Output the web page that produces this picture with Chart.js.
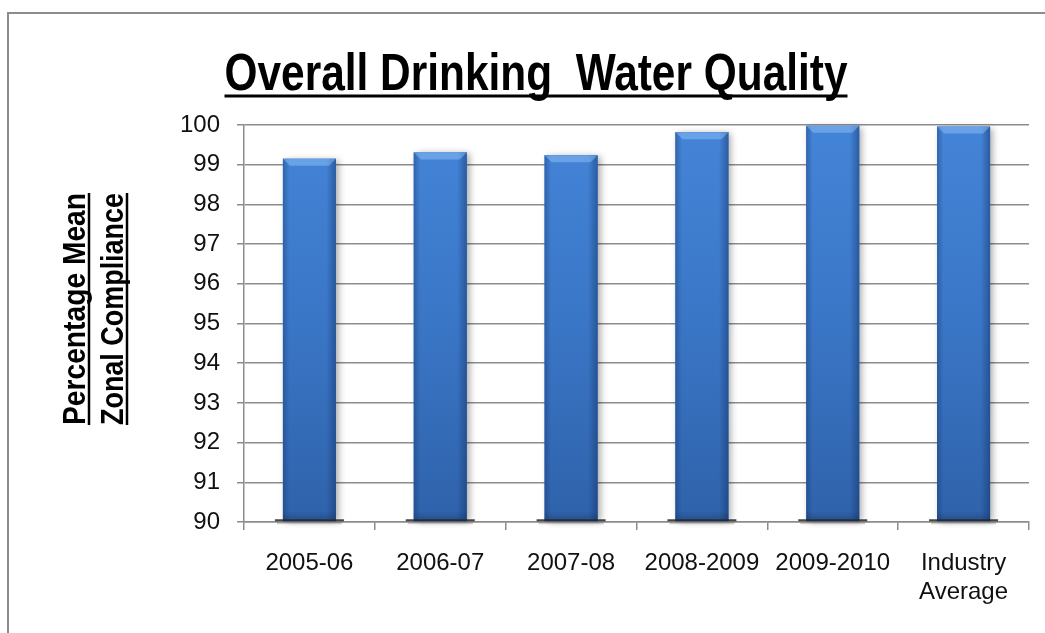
<!DOCTYPE html>
<html>
<head>
<meta charset="utf-8">
<script src="https://cdn.jsdelivr.net/npm/chart.js@4.4.1/dist/chart.umd.min.js"></script>
<style>
  html, body { margin: 0; padding: 0; background: #fff; }
  #wrap { width: 1045px; height: 633px; position: relative; }
</style>
</head>
<body>
<div id="wrap"><canvas id="chart" width="1045" height="633"></canvas></div>
<script>
// ── data ──
const categories = ['2005-06', '2006-07', '2007-08', '2008-2009', '2009-2010', ['Industry', 'Average']];
const compliance = [99.15, 99.31, 99.24, 99.82, 99.98, 99.96];
const Y_MIN = 90;
const Y_MAX = 100;
const Y_STEP = 1;

const TITLE = 'Overall Drinking  Water Quality';
const Y_TITLE = ['Percentage Mean', 'Zonal Compliance'];

const TICK_FONT = { family: "'Liberation Sans', Arial, sans-serif", size: 24 };
const BOLD_FAMILY = "'Liberation Sans Narrow', 'Liberation Sans', Arial, sans-serif";
const AXIS_GREY = '#8c8c8c';

// vertical blue fill for the columns
function columnFill(ctx) {
    const { chart } = ctx;
    const area = chart.chartArea;
    if (!area) return '#3d7bcc';
    const g = chart.ctx.createLinearGradient(0, area.top, 0, area.bottom);
    g.addColorStop(0, '#4484d8');
    g.addColorStop(0.5, '#3a76c6');
    g.addColorStop(1, '#2f62aa');
    return g;
}

function barBoxes(chart) {
    return chart.getDatasetMeta(0).data.map(bar => {
        const p = bar.getProps(['x', 'y', 'base', 'width'], true);
        return { l: p.x - p.width / 2, r: p.x + p.width / 2, t: p.y, b: p.base, w: p.width };
    });
}

// outer frame, soft drop shadow under the columns
const backdrop = {
    id: 'backdrop',
    beforeDraw(chart) {
        const c = chart.ctx;
        c.save();
        c.strokeStyle = AXIS_GREY;
        c.lineWidth = 2;
        c.strokeRect(8, 13, 1100, 700);
        c.restore();
    },
    beforeDatasetsDraw(chart) {
        const c = chart.ctx;
        c.save();
        c.shadowColor = 'rgba(0,0,0,0.35)';
        c.shadowBlur = 7;
        c.shadowOffsetX = 3;
        c.shadowOffsetY = 1;
        c.fillStyle = '#3a76c6';
        barBoxes(chart).forEach(b => c.fillRect(b.l, b.t, b.w, b.b - b.t));
        c.restore();
    },
};

// bevel + side shading on each column
const bevel = {
    id: 'bevel',
    afterDatasetsDraw(chart) {
        const c = chart.ctx;
        c.save();
        barBoxes(chart).forEach(b => {
            const side = c.createLinearGradient(b.l, 0, b.r, 0);
            side.addColorStop(0, 'rgba(15,45,95,0.35)');
            side.addColorStop(0.12, 'rgba(15,45,95,0)');
            side.addColorStop(0.82, 'rgba(15,45,95,0)');
            side.addColorStop(1, 'rgba(15,45,95,0.45)');
            c.fillStyle = side;
            c.fillRect(b.l, b.t, b.w, b.b - b.t);

            const bv = 7;
            c.beginPath();
            c.moveTo(b.l, b.t);
            c.lineTo(b.r, b.t);
            c.lineTo(b.r - bv, b.t + bv);
            c.lineTo(b.l + bv, b.t + bv);
            c.closePath();
            c.fillStyle = 'rgba(150,200,250,0.45)';
            c.fill();

            const foot = c.createLinearGradient(0, b.b - 10, 0, b.b);
            foot.addColorStop(0, 'rgba(20,40,80,0)');
            foot.addColorStop(1, 'rgba(20,40,80,0.35)');
            c.fillStyle = foot;
            c.fillRect(b.l, b.b - 10, b.w, 10);

            c.fillStyle = 'rgba(40,40,40,0.85)';
            c.fillRect(b.l - 8, b.b - 2, b.w + 16, 2);
            c.fillStyle = 'rgba(120,120,120,0.35)';
            c.fillRect(b.l - 6, b.b, b.w + 12, 3);
        });
        c.restore();
    },
};

// underlined title and two-line y axis title
const headings = {
    id: 'headings',
    afterDraw(chart) {
        const c = chart.ctx;
        c.save();
        c.fillStyle = '#000';
        c.strokeStyle = '#000';

        c.font = `bold 52px ${BOLD_FAMILY}`;
        c.textAlign = 'center';
        c.textBaseline = 'alphabetic';
        const tw = Math.min(c.measureText(TITLE).width, 623);
        c.fillText(TITLE, 536, 90, 623);
        c.lineWidth = 3;
        c.beginPath();
        c.moveTo(536 - tw / 2, 96);
        c.lineTo(536 + tw / 2, 96);
        c.stroke();

        c.font = `bold 31px ${BOLD_FAMILY}`;
        const baseX = [85, 123];
        Y_TITLE.forEach((line, i) => {
            c.save();
            c.translate(baseX[i], 309);
            c.rotate(-Math.PI / 2);
            const w = Math.min(c.measureText(line).width, 232);
            c.fillText(line, 0, 0, 232);
            c.lineWidth = 2.5;
            c.beginPath();
            c.moveTo(-w / 2, 4);
            c.lineTo(w / 2, 4);
            c.stroke();
            c.restore();
        });
        c.restore();
    },
};

new Chart(document.getElementById('chart'), {
    type: 'bar',
    data: {
        labels: categories,
        datasets: [{
            data: compliance,
            base: Y_MIN,
            backgroundColor: columnFill,
            borderWidth: 0,
            categoryPercentage: 1,
            barPercentage: 0.405,
        }],
    },
    options: {
        responsive: false,
        animation: false,
        events: [],
        layout: { padding: { top: 125, right: 16, left: 0, bottom: 0 } },
        plugins: {
            legend: { display: false },
            tooltip: { enabled: false },
        },
        scales: {
            x: {
                afterFit: s => { s.height = 111; },
                grid: {
                    offset: true,
                    drawOnChartArea: false,
                    color: AXIS_GREY,
                    lineWidth: 1.5,
                    tickLength: 8,
                },
                border: { color: AXIS_GREY, width: 1.5 },
                ticks: {
                    font: { ...TICK_FONT, lineHeight: 1.2 },
                    color: '#111',
                    padding: 19,
                    maxRotation: 0,
                    autoSkip: false,
                },
            },
            y: {
                min: Y_MIN,
                max: Y_MAX,
                afterFit: s => { s.width = 244; },
                grid: {
                    color: AXIS_GREY,
                    lineWidth: 1.5,
                    tickLength: 7,
                },
                border: { color: AXIS_GREY, width: 1.5 },
                ticks: {
                    stepSize: Y_STEP,
                    font: TICK_FONT,
                    color: '#111',
                    padding: 17,
                },
            },
        },
    },
    plugins: [backdrop, bevel, headings],
});
</script>
</body>
</html>
